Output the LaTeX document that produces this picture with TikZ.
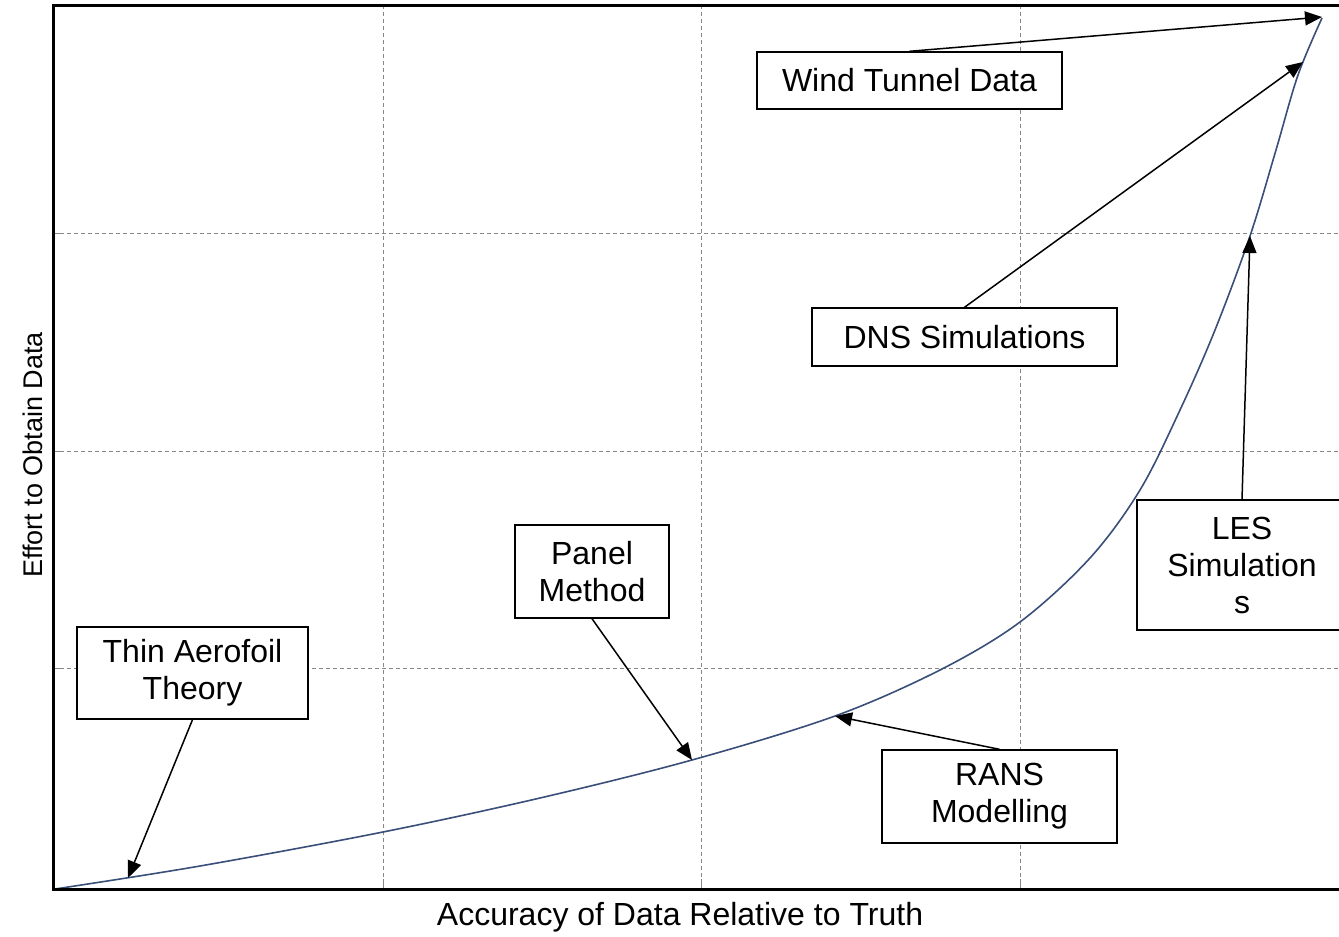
\documentclass[tikz,border=0pt]{standalone}
\usepackage{fontspec}
\setmainfont{Liberation Sans}
\usetikzlibrary{arrows.meta,positioning}
\definecolor{crvblue}{RGB}{58,78,122}
\definecolor{gridgray}{RGB}{135,135,135}
\tikzset{
  frm/.style={black, line width=3pt},
  gridln/.style={gridgray, line width=1pt, dash pattern=on 4pt off 3pt},
  tck/.style={gridgray, line width=1pt},
  crv/.style={crvblue, line width=1.6pt},
  lblbox/.style={draw=black, fill=white, line width=1.4pt, align=center,
                 inner sep=0pt, font=\fontsize{32}{37}\selectfont},
  ptr/.style={-{Triangle[length=17pt,width=14pt]}, black, line width=1.5pt},
  axlbl/.style={font=\fontsize{32}{36}\selectfont},
}

\begin{document}
\begin{tikzpicture}[x=1pt,y=-1pt]
    \useasboundingbox (0,0) rectangle (1339,937);
    \clip (0,0) rectangle (1339,937);
    % grid and ticks
    \foreach \gx in {383,701,1020} {
      \draw[gridln] (\gx,5) -- (\gx,889);
      \draw[tck] (\gx,889) -- (\gx,879);
    }
    \foreach \gy in {233,451,668} {
      \draw[gridln] (53,\gy) -- (1339,\gy);
      \draw[tck] (53,\gy) -- (63,\gy);
    }
    % effort vs accuracy curve
    \draw[crv] plot[smooth, tension=0.55] coordinates {(55,889) (200,866)
      (383,832) (540,798) (692,760) (835,716) (940,670) (1020,622) (1090,558)
      (1140,490) (1180,410) (1215,330) (1250,236) (1276,150) (1298,75) (1322,18)};
    \draw[frm] (1350,5) -- (53,5) -- (53,889) -- (1350,889);
    % points on the curve
    \coordinate (pwind) at (1322,17);
    \coordinate (pdns) at (1303,62);
    \coordinate (ples) at (1250,236);
    \coordinate (ppanel) at (692,760);
    \coordinate (pthin) at (128,878);
    \coordinate (prans) at (835,716);
    % labels
    \node[lblbox, minimum width=305pt, minimum height=57pt] (wind) at (909.5,80.5) {Wind Tunnel Data};
    \node[lblbox, minimum width=305pt, minimum height=58pt] (dns) at (964.5,337) {DNS Simulations};
    \node[lblbox, minimum width=210pt, minimum height=130pt] (les) at (1242,565) {LES\\Simulation\\s};
    \node[lblbox, minimum width=154pt, minimum height=93pt] (panel) at (592,571.5) {Panel\\Method};
    \node[lblbox, minimum width=231pt, minimum height=92pt] (thin) at (192.5,673) {Thin Aerofoil\\Theory};
    \node[lblbox, minimum width=235pt, minimum height=93pt] (rans) at (999.5,796.5) {RANS\\Modelling};
    \draw[ptr] (wind.north) -- (pwind);
    \draw[ptr] (dns.north) -- (pdns);
    \draw[ptr] (les.north) -- (ples);
    \draw[ptr] (panel.south) -- (ppanel);
    \draw[ptr] (thin.south) -- (pthin);
    \draw[ptr] (rans.north) -- (prans);
    % axes
    \node[axlbl] (xlab) at (680,917) {Accuracy of Data Relative to Truth};
    \node[axlbl, rotate=90, font=\fontsize{27}{30}\selectfont] (ylab) at (33,455) {Effort to Obtain Data};
\end{tikzpicture}
\end{document}
